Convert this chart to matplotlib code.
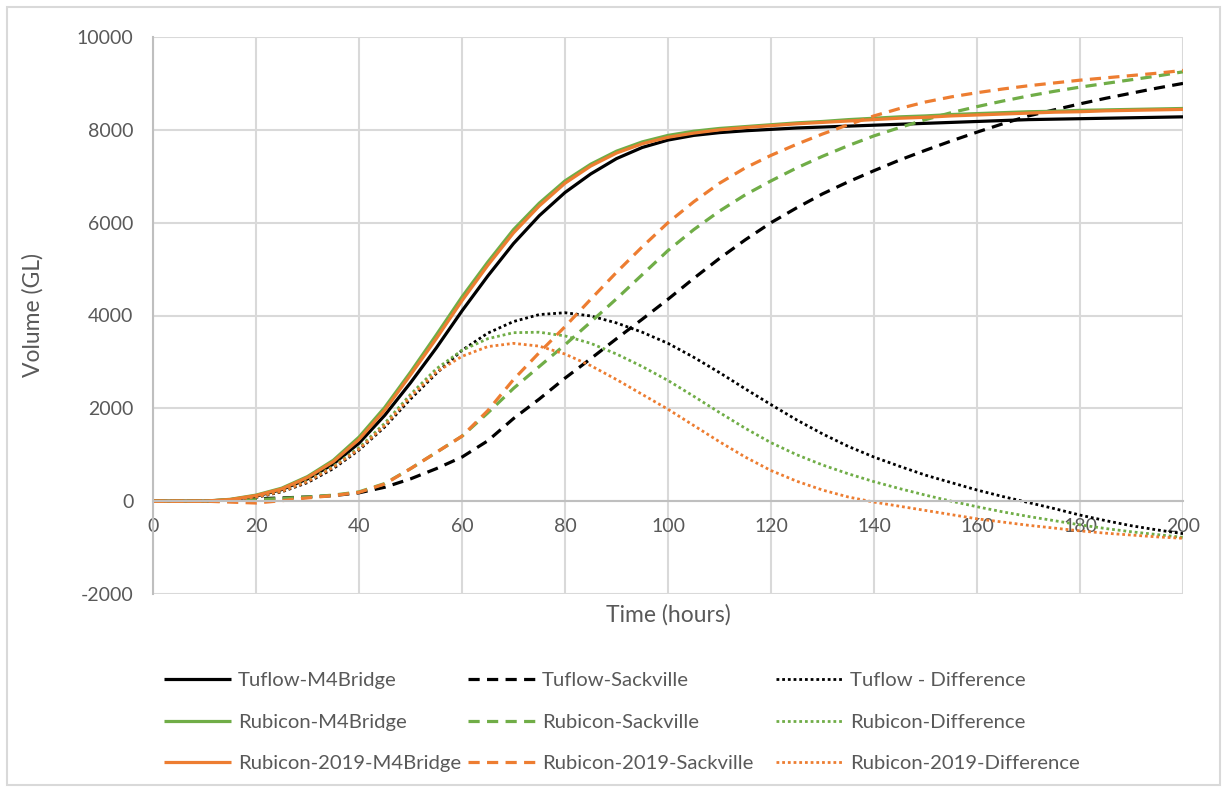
import matplotlib
matplotlib.use("Agg")
import matplotlib.pyplot as plt
from matplotlib.patches import Rectangle

plt.rcParams['font.family'] = ['Lato', 'DejaVu Sans']
plt.rcParams['axes.unicode_minus'] = False

hours = list(range(0, 201, 5))

tuflow_m4 = [0, 0, 0, 30, 110, 250, 480, 800, 1250, 1850, 2550, 3300, 4100, 4850, 5550, 6150, 6650, 7050, 7380, 7620,
             7780, 7880, 7940, 7980, 8010, 8040, 8060, 8080, 8100, 8120, 8140, 8160, 8180, 8200, 8220, 8230, 8240, 8250,
             8260, 8270, 8280]
rubicon_m4 = [0, 0, 0, 40, 130, 280, 530, 880, 1380, 2020, 2780, 3580, 4400, 5150, 5850, 6420, 6900, 7260, 7540, 7740,
              7880, 7970, 8030, 8070, 8110, 8150, 8180, 8220, 8250, 8280, 8300, 8330, 8350, 8370, 8390, 8400, 8420, 8430,
              8440, 8450, 8460]
rub2019_m4 = [0, 0, 0, 35, 120, 265, 510, 850, 1330, 1960, 2720, 3500, 4320, 5080, 5780, 6360, 6850, 7220, 7500, 7700,
              7840, 7930, 8000, 8050, 8090, 8130, 8160, 8190, 8220, 8250, 8270, 8300, 8320, 8340, 8360, 8380, 8390, 8410,
              8420, 8430, 8440]

tuflow_sack = [0, 0, 0, 20, 50, 70, 90, 120, 180, 300, 480, 700, 950, 1300, 1780, 2200, 2650, 3070, 3500, 3920,
               4350, 4800, 5230, 5630, 6000, 6320, 6620, 6880, 7120, 7350, 7560, 7760, 7950, 8130, 8300, 8430, 8560,
               8680, 8790, 8900, 9000]
rubicon_sack = [0, 0, 0, 10, 30, 60, 90, 130, 200, 380, 700, 1050, 1400, 1900, 2430, 2900, 3370, 3860, 4360, 4880,
                5400, 5850, 6250, 6600, 6900, 7180, 7430, 7660, 7870, 8050, 8220, 8370, 8500, 8620, 8730, 8830, 8920,
                9000, 9080, 9160, 9250]
rub2019_sack = [0, 0, 0, -20, -40, 10, 70, 120, 190, 370, 700, 1050, 1400, 1950, 2620, 3200, 3760, 4350, 4930, 5480,
                6000, 6450, 6850, 7180, 7450, 7690, 7910, 8110, 8300, 8460, 8600, 8710, 8800, 8880, 8950, 9010, 9070,
                9120, 9170, 9220, 9280]

tuflow_diff = [0, 0, 0, 20, 80, 200, 400, 700, 1100, 1600, 2200, 2750, 3250, 3620, 3870, 4020, 4060, 3990, 3840, 3640,
               3400, 3100, 2770, 2420, 2080, 1750, 1450, 1180, 950, 750, 560, 400, 240, 100, -30, -160, -300, -420,
               -530, -620, -700]
rubicon_diff = [0, 0, 0, 30, 100, 220, 440, 750, 1150, 1680, 2300, 2850, 3250, 3500, 3630, 3640, 3560, 3400, 3170,
                2900, 2600, 2260, 1910, 1570, 1260, 1000, 780, 590, 420, 270, 130, 0, -120, -230, -330, -420, -510,
                -590, -660, -720, -780]
rub2019_diff = [0, 0, 0, 20, 90, 210, 420, 730, 1120, 1630, 2250, 2780, 3120, 3330, 3400, 3340, 3170, 2920, 2620,
                2300, 1980, 1630, 1280, 950, 660, 430, 240, 90, -20, -110, -200, -290, -380, -450, -520, -580, -640,
                -690, -730, -770, -800]

x_ticks = list(range(0, 201, 20))
y_ticks = list(range(-2000, 10001, 2000))

BLACK = '#000000'
GREEN = '#70AD47'
ORANGE = '#ED7D31'
TXT = '#595959'

fig = plt.figure(figsize=(12.27, 7.92), dpi=100)
ax = fig.add_axes([153/1227, 1-594/792, (1183-153)/1227, (594-37)/792])

solid = dict(lw=2.3, ls='-', solid_capstyle='butt')
dashed = dict(lw=2.3, ls=(0, (3.5, 2.3)))
dotted = dict(lw=2.0, ls=(0, (1.0, 1.05)), dash_capstyle='butt')

series = [
    (tuflow_m4, BLACK, solid, 'Tuflow-M4Bridge'),
    (tuflow_sack, BLACK, dashed, 'Tuflow-Sackville'),
    (tuflow_diff, BLACK, dotted, 'Tuflow - Difference'),
    (rubicon_m4, GREEN, solid, 'Rubicon-M4Bridge'),
    (rubicon_sack, GREEN, dashed, 'Rubicon-Sackville'),
    (rubicon_diff, GREEN, dotted, 'Rubicon-Difference'),
    (rub2019_m4, ORANGE, solid, 'Rubicon-2019-M4Bridge'),
    (rub2019_sack, ORANGE, dashed, 'Rubicon-2019-Sackville'),
    (rub2019_diff, ORANGE, dotted, 'Rubicon-2019-Difference'),
]
handles = {}
for vals, col, sty, lab in series:
    ln, = ax.plot(hours, vals, color=col, label=lab, **sty)
    handles[lab] = ln

ax.set_xlim(0, 200)
ax.set_ylim(-2000, 10000)
ax.set_xticks(x_ticks)
ax.set_yticks(y_ticks)
ax.grid(True, color='#D9D9D9', lw=1.5)
ax.set_axisbelow(True)
for s in ['top', 'right']:
    ax.spines[s].set_visible(False)
ax.spines['bottom'].set_position(('data', 0))
ax.spines['bottom'].set_color('#BFBFBF')
ax.spines['left'].set_color('#BFBFBF')
ax.spines['bottom'].set_linewidth(1.5)
ax.spines['left'].set_linewidth(1.5)
ax.tick_params(length=0, labelsize=14, labelcolor=TXT)
ax.tick_params(axis='x', pad=12)
ax.tick_params(axis='y', pad=14)

fig.text(668/1227, 1-615/792, 'Time (hours)', ha='center', va='center', fontsize=16.5, color=TXT)
fig.text(33/1227, 1-315/792, 'Volume (GL)', ha='center', va='center', rotation=90, fontsize=16.5, color=TXT)

columns = [
    (['Tuflow-M4Bridge', 'Rubicon-M4Bridge', 'Rubicon-2019-M4Bridge'], 164),
    (['Tuflow-Sackville', 'Rubicon-Sackville', 'Rubicon-2019-Sackville'], 468),
    (['Tuflow - Difference', 'Rubicon-Difference', 'Rubicon-2019-Difference'], 776),
]
for labels, xpix in columns:
    leg = fig.legend([handles[k] for k in labels], labels, loc='upper left',
                     bbox_to_anchor=(xpix/1227, 1-672/792), frameon=False, fontsize=14.6,
                     handlelength=3.3, handletextpad=0.35, labelspacing=1.2,
                     borderpad=0, borderaxespad=0)
    for t in leg.get_texts():
        t.set_color(TXT)

fig.patches.append(Rectangle((7/1227, 7/792), 1-14/1227, 1-14/792, transform=fig.transFigure,
                             fill=False, edgecolor='#D9D9D9', lw=1.5))

fig.savefig('out.png', dpi=100)
